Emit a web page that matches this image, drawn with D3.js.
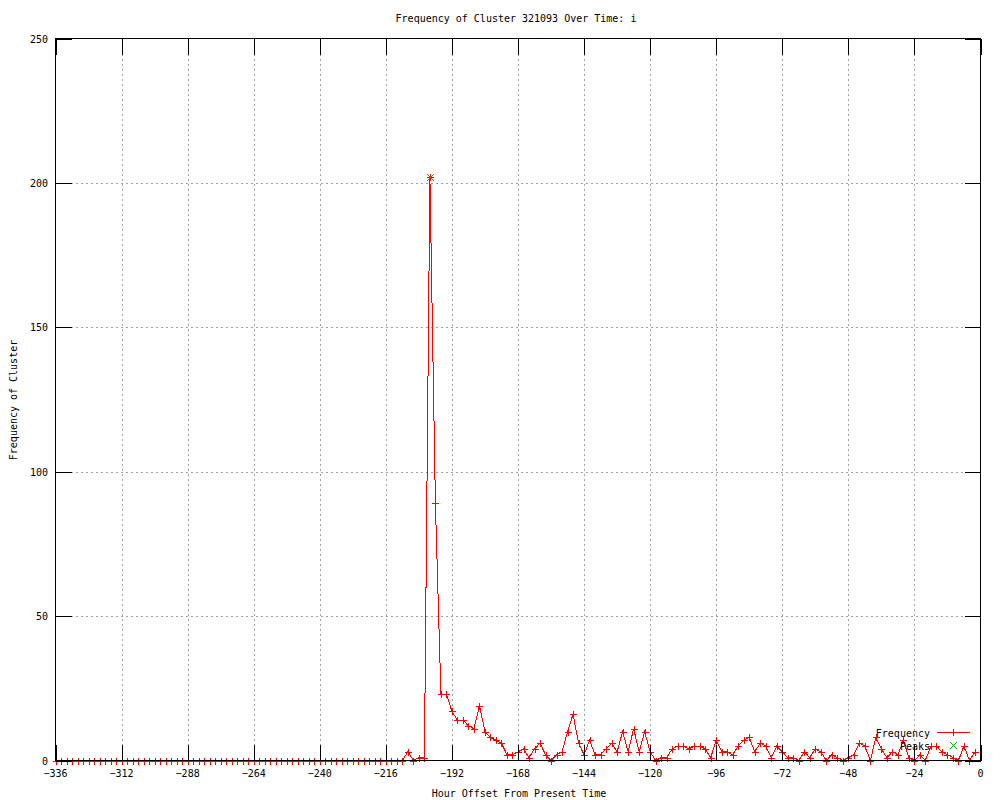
<!DOCTYPE html>
<html>
<head>
<meta charset="utf-8">
<script src="https://cdn.jsdelivr.net/npm/d3@7"></script>
<style>
  html, body { margin: 0; padding: 0; background: #fff; }
  svg { display: block; }
  text { font-family: "DejaVu Sans Mono", "Liberation Mono", monospace; font-size: 10px; fill: #000; }
</style>
</head>
<body>
<svg id="chart" width="1000" height="800"></svg>
<script>
// ---- data ----
const title = "Frequency of Cluster 321093 Over Time: i";
const xLabel = "Hour Offset From Present Time";
const yLabel = "Frequency of Cluster";
const xTicks = [-336, -312, -288, -264, -240, -216, -192, -168, -144, -120, -96, -72, -48, -24, 0];
const yTicks = [0, 50, 100, 150, 200, 250];
// hours -336 .. -2, every 2 hours
const hours = d3.range(-336, 0, 2);
const leadingZeros = new Array(64).fill(0); // -336 .. -210
const laterCounts = [
  3, 0, 1, 1, 202, 89, 23, 23, 17, 14, 14, 12, 11, 19, 10, 8, 7, 6, 2, 2,
  3, 4, 1, 4, 6, 2, 0, 2, 3, 10, 16, 6, 2, 7, 2, 2, 4, 6, 3, 10,
  3, 11, 3, 10, 3, 0, 1, 1, 4, 5, 5, 4, 5, 5, 4, 1, 7, 3, 3, 2,
  5, 7, 8, 3, 6, 5, 1, 5, 3, 1, 1, 0, 3, 1, 4, 3, 0, 2, 1, 0,
  1, 2, 6, 5, 0, 8, 4, 1, 3, 2, 7, 1, 0, 2, 0, 5, 5, 3, 2, 1,
  0, 5, 0, 3
]; // -208 .. -2
const frequency = leadingZeros.concat(laterCounts);
const peakHours = [-200];
const peakValues = [202];

// ---- layout ----
const svg = d3.select("#chart");
const L = 55.5, R = 980.5, T = 38.5, B = 760.5;
const x = d3.scaleLinear().domain([-336, 0]).range([L, R]);
const y = d3.scaleLinear().domain([0, 250]).range([B, T]);
const tickLen = 16;
const red = "#ff0000", green = "#00c000";

// grid
const grid = svg.append("g").attr("shape-rendering", "crispEdges");
grid.selectAll("line.gx").data(xTicks.slice(1, -1)).enter().append("line")
  .attr("x1", d => Math.round(x(d)) + 0.5).attr("x2", d => Math.round(x(d)) + 0.5)
  .attr("y1", T).attr("y2", B)
  .attr("stroke", "#a0a0a0").attr("stroke-dasharray", "2,3");
grid.selectAll("line.gy").data(yTicks.slice(1, -1)).enter().append("line")
  .attr("y1", d => Math.round(y(d)) + 0.5).attr("y2", d => Math.round(y(d)) + 0.5)
  .attr("x1", L).attr("x2", R)
  .attr("stroke", "#a0a0a0").attr("stroke-dasharray", "2,3");

// data line
const pts = hours.map((h, i) => [h, frequency[i]]);
const plot = svg.append("g");
plot.append("path")
  .datum(pts)
  .attr("d", d3.line().x(d => x(d[0])).y(d => y(d[1])))
  .attr("fill", "none").attr("stroke", red).attr("stroke-width", 1)
  .attr("shape-rendering", "crispEdges");
const ps = 3.5;
const plus = (g, cx, cy, col) => {
  g.append("line").attr("x1", cx - ps).attr("x2", cx + ps).attr("y1", cy).attr("y2", cy).attr("stroke", col);
  g.append("line").attr("x1", cx).attr("x2", cx).attr("y1", cy - ps).attr("y2", cy + ps).attr("stroke", col);
};
const cross = (g, cx, cy, col) => {
  g.append("line").attr("x1", cx - ps).attr("x2", cx + ps).attr("y1", cy - ps).attr("y2", cy + ps).attr("stroke", col);
  g.append("line").attr("x1", cx - ps).attr("x2", cx + ps).attr("y1", cy + ps).attr("y2", cy - ps).attr("stroke", col);
};
const marks = plot.append("g").attr("shape-rendering", "crispEdges");
pts.forEach(d => plus(marks, Math.round(x(d[0])) + 0.5, Math.round(y(d[1])) + 0.5, red));
const peaks = plot.append("g").attr("shape-rendering", "crispEdges");
peakHours.forEach((h, i) => cross(peaks, Math.round(x(h)) + 0.5, Math.round(y(peakValues[i])) + 0.5, green));

// border and ticks
const ax = svg.append("g").attr("shape-rendering", "crispEdges").attr("stroke", "#000");
ax.append("rect").attr("x", L).attr("y", T).attr("width", R - L).attr("height", B - T).attr("fill", "none");
xTicks.forEach(t => {
  const px = Math.round(x(t)) + 0.5;
  ax.append("line").attr("x1", px).attr("x2", px).attr("y1", B).attr("y2", B - tickLen);
  ax.append("line").attr("x1", px).attr("x2", px).attr("y1", T).attr("y2", T + tickLen);
});
yTicks.forEach(t => {
  const py = Math.round(y(t)) + 0.5;
  ax.append("line").attr("y1", py).attr("y2", py).attr("x1", L).attr("x2", L + tickLen);
  ax.append("line").attr("y1", py).attr("y2", py).attr("x1", R).attr("x2", R - tickLen);
});

// tick labels
svg.append("g").selectAll("text").data(xTicks).enter().append("text")
  .attr("x", d => x(d)).attr("y", 777)
  .attr("text-anchor", "middle").text(d => d3.format("d")(d).replace("-", "-"));
svg.append("g").selectAll("text").data(yTicks).enter().append("text")
  .attr("x", 48).attr("y", d => y(d) + 4)
  .attr("text-anchor", "end").text(d => d);

// titles
svg.append("text").attr("x", 516).attr("y", 22).attr("text-anchor", "middle").text(title);
svg.append("text").attr("x", 519).attr("y", 797).attr("text-anchor", "middle").text(xLabel);
svg.append("text").attr("transform", "translate(17,400) rotate(-90)").attr("text-anchor", "middle").text(yLabel);

// legend
const lg = svg.append("g");
lg.append("text").attr("x", 930).attr("y", 737).attr("text-anchor", "end").text("Frequency");
lg.append("line").attr("x1", 937).attr("x2", 970).attr("y1", 732.5).attr("y2", 732.5).attr("stroke", red).attr("shape-rendering", "crispEdges");
const lgm = lg.append("g").attr("shape-rendering", "crispEdges");
plus(lgm, 953.5, 732.5, red);
lg.append("text").attr("x", 930).attr("y", 750).attr("text-anchor", "end").text("Peaks");
cross(lgm, 953.5, 745.5, green);
</script>
</body>
</html>
